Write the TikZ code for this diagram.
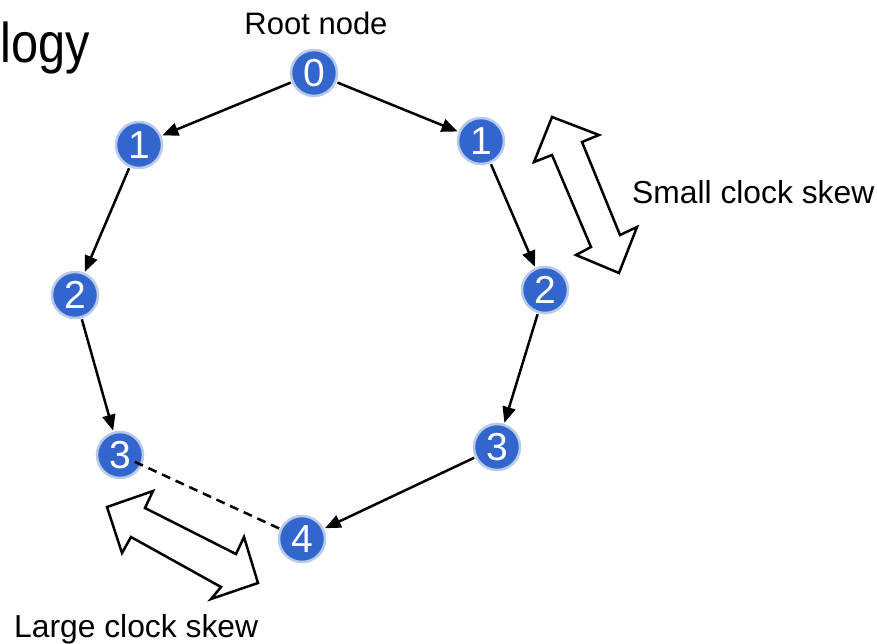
\documentclass[tikz,border=0pt]{standalone}
\usepackage{fontspec}
\setmainfont{Liberation Sans}
\usetikzlibrary{arrows.meta}
\definecolor{nodeblue}{HTML}{3366CC}
\definecolor{ringblue}{HTML}{B8CAEA}
\tikzset{
  tnode/.style={circle, fill=nodeblue, draw=ringblue, line width=2.5pt, minimum size=46pt, inner sep=0pt, text=white, font=\fontsize{39}{39}\selectfont},
  link/.style={line width=2.5pt, -{Triangle[length=16pt,width=13pt]}, shorten >=1pt, shorten <=1pt},
  dlink/.style={line width=2.5pt, dash pattern=on 9pt off 6pt},
  blockarrow/.style={draw=black, line width=2.5pt, fill=white, line join=miter},
  lbl/.style={inner sep=0pt, anchor=base, font=\fontsize{31}{31}\selectfont}
}
\begin{document}
\begin{tikzpicture}[x=1pt,y=-1pt]
\useasboundingbox (0,0) rectangle (877,643);
\node[inner sep=0pt, anchor=base west, font=\fontsize{56}{56}\selectfont] (title) at (0,62) {\scalebox{0.87}[1]{logy}};
\node[lbl] (rootlbl) at (316,34) {Root node};
\node[lbl, anchor=base west, font=\fontsize{31.8}{31.8}\selectfont] (smalllbl) at (632,203) {Small clock skew};
\node[lbl, anchor=base west, font=\fontsize{31.8}{31.8}\selectfont] (largelbl) at (14,637) {Large clock skew};

\node[tnode] (n0) at (314,73) {0};
\node[tnode] (n1l) at (139,145) {1};
\node[tnode] (n1r) at (481,141) {1};
\node[tnode] (n2l) at (75,295) {2};
\node[tnode] (n2r) at (545,290) {2};
\node[tnode] (n3l) at (120,455) {3};
\node[tnode] (n3r) at (497,447) {3};
\node[tnode] (n4) at (302,539) {4};

\draw[link] (n0) -- (n1l);
\draw[link] (n0) -- (n1r);
\draw[link] (n1l) -- (n2l);
\draw[link] (n1r) -- (n2r);
\draw[link] (n2l) -- (n3l);
\draw[link] (n2r) -- (n3r);
\draw[link] (n3r) -- (n4);
\draw[dlink, shorten <=-8pt] (n3l) -- (n4);

\draw[blockarrow] (552,117) -- (599,135) -- (582,142) -- (620,235) -- (637,227) -- (619,273) -- (576,255) -- (591,247) -- (552,155) -- (534,162) -- cycle;
\draw[blockarrow] (107,507) -- (153,491) -- (145,508) -- (236,554) -- (244,537) -- (258,583) -- (211,599) -- (221,587) -- (131,537) -- (122,553) -- cycle;
\end{tikzpicture}
\end{document}
